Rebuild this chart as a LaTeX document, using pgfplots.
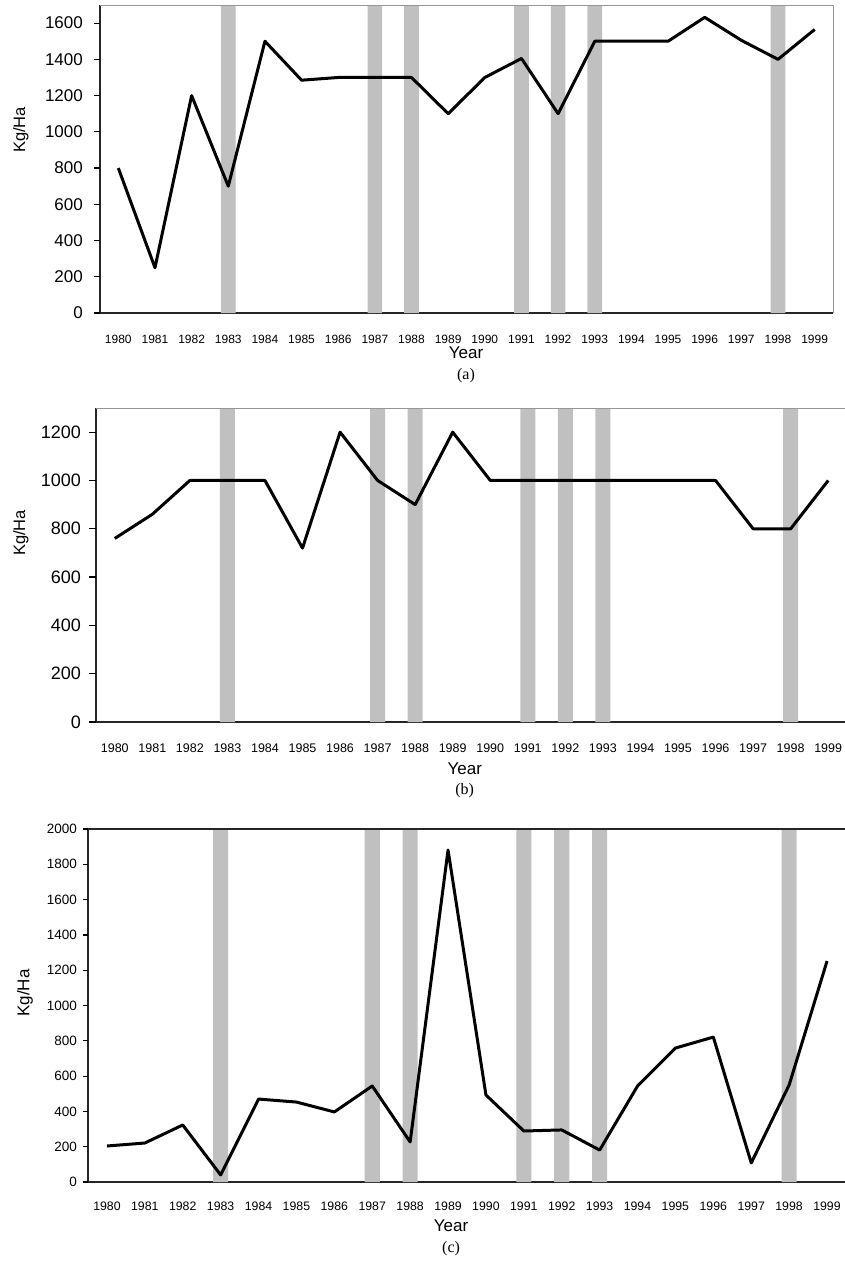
\documentclass[border=0pt]{standalone}
\usepackage{fontspec}
\setmainfont{Liberation Sans}
\newfontfamily\serif{Liberation Serif}
\usepackage{pgfplots}
\pgfplotsset{compat=1.18}
\definecolor{bargray}{RGB}{192,192,192}
\definecolor{framegray}{RGB}{150,150,150}

\pgfplotsset{
  panel/.style={
    scale only axis,
    anchor=south west,
    clip=false,
    xmin=1979.5, xmax=1999.5,
    ymin=0,
    xtick={1980,...,1999},
    /pgf/number format/assume math mode=true,
    /pgf/number format/1000 sep={},
    axis x line*=bottom, axis y line*=left,
    axis line style={-, line width=1.4pt, black!85},
    x tick style={draw=none},
    y tick style={black, line width=1.2pt},
    tick align=outside,
    major tick length=6pt,
    ylabel={Kg/Ha},
  },
  bars/.style={ybar, bar width=0.4, fill=bargray, draw=none, forget plot},
  dataline/.style={black, line width=3pt, mark=none, line join=round},
}

\begin{document}
\begin{tikzpicture}
\useasboundingbox (0,0) rectangle (844pt,-1267pt);

% ---------------- (a)
\begin{axis}[panel,
  at={(100pt,-313pt)}, width=733pt, height=308pt,
  ymax=1700, ytick={0,200,...,1600},
  xticklabel style={font=\fontsize{12}{12}\selectfont, anchor=center, yshift=-20pt},
  yticklabel style={font=\fontsize{17}{17}\selectfont, anchor=east, inner sep=0pt, xshift=-11pt},
  ylabel style={font=\fontsize{16.5}{17}\selectfont, at={(axis description cs:-0.1078,0.594)}, anchor=center},
  xlabel={Year\\{\serif\fontsize{16}{16}\selectfont (a)}},
  xlabel style={font=\fontsize{17}{21}\selectfont, align=center, at={(axis description cs:0.4993,-0.1672)}, anchor=center},
]
\addplot[bars] coordinates {(1983,1700) (1987,1700) (1988,1700) (1991,1700) (1992,1700) (1993,1700) (1998,1700)};
\addplot[dataline] coordinates {
(1980,800) (1981,250) (1982,1200) (1983,700) (1984,1500) (1985,1285) (1986,1300) (1987,1300) (1988,1300) (1989,1100)
(1990,1300) (1991,1405) (1992,1100) (1993,1500) (1994,1500) (1995,1500) (1996,1632) (1997,1505) (1998,1400) (1999,1565)};
\draw[framegray, line width=1pt] (rel axis cs:0,1) -- (rel axis cs:1,1) -- (rel axis cs:1,0);
\pgfplotsinvokeforeach{0,200,...,1600}{\draw[black, line width=1.2pt] (axis cs:1979.5,#1) -- ++(-6pt,0pt);}
\end{axis}

% ---------------- (b)
\begin{axis}[panel,
  at={(96pt,-722pt)}, width=751pt, height=314pt,
  ymax=1300, ytick={0,200,...,1200},
  xticklabel style={font=\fontsize{12.5}{12.5}\selectfont, anchor=center, yshift=-20pt},
  yticklabel style={font=\fontsize{18}{18}\selectfont, anchor=east, inner sep=0pt, xshift=-9pt},
  ylabel style={font=\fontsize{16.5}{17}\selectfont, at={(axis description cs:-0.0999,0.602)}, anchor=center},
  xlabel={Year\\{\serif\fontsize{16}{16}\selectfont (b)}},
  xlabel style={font=\fontsize{17}{20}\selectfont, align=center, at={(axis description cs:0.491,-0.1847)}, anchor=center},
]
\addplot[bars] coordinates {(1983,1300) (1987,1300) (1988,1300) (1991,1300) (1992,1300) (1993,1300) (1998,1300)};
\addplot[dataline] coordinates {
(1980,760) (1981,860) (1982,1000) (1983,1000) (1984,1000) (1985,720) (1986,1200) (1987,1000) (1988,900) (1989,1200)
(1990,1000) (1991,1000) (1992,1000) (1993,1000) (1994,1000) (1995,1000) (1996,1000) (1997,800) (1998,800) (1999,1000)};
\draw[framegray, line width=1pt] (rel axis cs:0,1) -- (rel axis cs:1,1) -- (rel axis cs:1,0);
\pgfplotsinvokeforeach{0,200,...,1200}{\draw[black, line width=1.2pt] (axis cs:1979.5,#1) -- ++(-7pt,0pt);}
\end{axis}

% ---------------- (c)
\begin{axis}[panel,
  at={(88pt,-1182pt)}, width=758pt, height=353pt,
  ymax=2000, ytick={0,200,...,2000},
  major tick length=5pt,
  xticklabel style={font=\fontsize{12.3}{12.3}\selectfont, anchor=center, yshift=-19pt},
  yticklabel style={font=\fontsize{13.5}{13.5}\selectfont, anchor=east, inner sep=0pt, xshift=-6pt},
  ylabel style={font=\fontsize{17}{17}\selectfont, at={(axis description cs:-0.0831,0.535)}, anchor=center},
  xlabel={Year\\{\serif\fontsize{16}{16}\selectfont (c)}},
  xlabel style={font=\fontsize{17}{21}\selectfont, align=center, at={(axis description cs:0.479,-0.1572)}, anchor=center},
]
\addplot[bars] coordinates {(1983,2000) (1987,2000) (1988,2000) (1991,2000) (1992,2000) (1993,2000) (1998,2000)};
\addplot[dataline] coordinates {
(1980,204) (1981,221) (1982,323) (1983,40) (1984,470) (1985,453) (1986,397) (1987,544) (1988,227) (1989,1881)
(1990,493) (1991,289) (1992,295) (1993,181) (1994,544) (1995,759) (1996,821) (1997,108) (1998,550) (1999,1252)};
\draw[black!85, line width=1.2pt] (rel axis cs:0,1) -- (rel axis cs:1,1);
\draw[framegray, line width=1pt] (rel axis cs:1,1) -- (rel axis cs:1,0);
\pgfplotsinvokeforeach{0,200,...,2000}{\draw[black, line width=1.2pt] (axis cs:1979.5,#1) -- ++(-5pt,0pt);}
\end{axis}
\end{tikzpicture}
\end{document}
